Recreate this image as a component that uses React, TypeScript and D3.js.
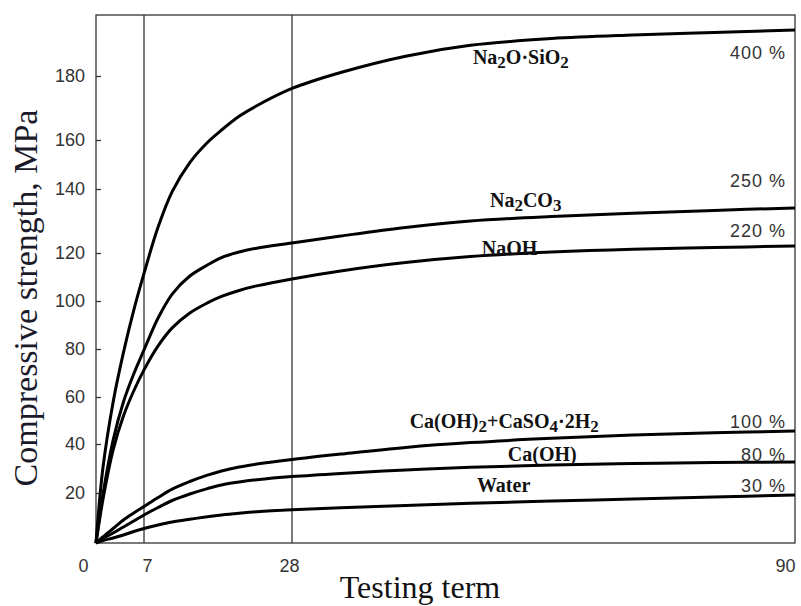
import React from 'react';
import * as d3 from 'd3';

// testing term, days
const days = [0, 1, 2.5, 4, 5.5, 7, 9, 11, 13.5, 16, 18, 20.5, 23, 28, 34, 42, 50, 60, 70, 80, 90];

// compressive strength, MPa
const silicate = [0, 30, 57.9, 78.5, 96.1, 111.5, 128.1, 139.2, 150.8, 159, 163.1, 167.4, 170.7, 176.1, 181.1, 186.2, 189.6, 191.7, 192.8, 193.6, 194.4];
const carbonate = [0, 19.2, 41.7, 57.9, 69.6, 79.6, 92.9, 102.9, 110.4, 115, 118.1, 120.3, 121.5, 123.1, 125.3, 128, 130, 131.4, 132.4, 133.3, 134.1];
const hydroxide = [0, 17.2, 37.6, 51.9, 62.5, 71.3, 81.3, 88.8, 95, 99.2, 101.9, 104.4, 106.3, 109.2, 112.5, 116, 118.5, 120.3, 121.2, 121.7, 122.2];
const limeGypsum = [0, 2.4, 5.8, 9.2, 12, 14.6, 18.2, 21.6, 24.7, 27.3, 29, 30.6, 31.8, 33.7, 35.9, 38.6, 40.6, 42.4, 43.8, 44.8, 45.5];
const lime = [0, 1.8, 4, 6.4, 8.8, 11.2, 14.2, 17, 19.6, 21.8, 23.3, 24.5, 25.4, 26.7, 28, 29.4, 30.5, 31.4, 32, 32.4, 32.65];
const water = [0, 1, 2, 3.2, 4.6, 5.8, 7.2, 8.4, 9.5, 10.5, 11.2, 11.9, 12.5, 13.3, 14.1, 15, 15.9, 16.8, 17.6, 18.4, 19.2];

const percents = ['400 %', '250 %', '220 %', '100 %', '80 %', '30 %'];

// label text pieces, "_" prefix = subscript
const names = [
  ['Na', '_2', 'O·SiO', '_2'],
  ['Na', '_2', 'CO', '_3'],
  ['NaOH'],
  ['Ca(OH)', '_2', '+CaSO', '_4', '·2H', '_2'],
  ['Ca(OH)'],
  ['Water'],
];

const xTicks = [0, 7, 28, 90];
const yTicks = [20, 40, 60, 80, 100, 120, 140, 160, 180];

const W = 801;
const H = 606;
const left = 96;
const top = 15;
const right = 795;
const bottom = 543;

// the original axes are not evenly spaced, so piecewise scales
const x = d3.scaleLinear().domain([0, 7, 28, 90]).range([left, 144, 292, right]);
const y = d3
  .scaleLinear()
  .domain([0, 20, 40, 60, 80, 100, 120, 140, 160, 180, 200])
  .range([bottom, 493, 444, 397, 349, 301, 253, 189, 140, 76, 12]);

const series = [silicate, carbonate, hydroxide, limeGypsum, lime, water];

// where each name sits: day of its left edge, offset from the curve
const namePos = [
  { day: 50.3, dy: 19 },
  { day: 52.4, dy: -13 },
  { day: 51.4, dy: -1 },
  { day: 42.5, dy: -19 },
  { day: 54.6, dy: -5 },
  { day: 50.8, dy: -11 },
];
const pctY = [59, 187, 237, 428, 461, 492];

const serif = '"Liberation Serif", "Times New Roman", serif';
const sans = '"Liberation Sans", Arial, sans-serif';

const valueAt = (vals: number[], day: number) => d3.scaleLinear().domain(days).range(vals)(day);

export default function App() {
  const yAxisRef = React.useRef<SVGGElement>(null);
  const xAxisRef = React.useRef<SVGGElement>(null);

  React.useEffect(() => {
    const ya = d3.select(yAxisRef.current!);
    ya.call(d3.axisLeft(y).tickValues(yTicks).tickSizeInner(-5).tickSizeOuter(0).tickPadding(11) as any);
    ya.select('.domain').remove();
    ya.selectAll('line').attr('stroke', '#333').attr('stroke-width', 1.3);
    ya.selectAll('text').attr('fill', '#333').style('font-family', sans).style('font-size', '18px');

    const xa = d3.select(xAxisRef.current!);
    xa.call(d3.axisBottom(x).tickValues(xTicks).tickSize(0).tickPadding(16) as any);
    xa.select('.domain').remove();
    xa.selectAll('text')
      .attr('fill', '#333')
      .style('font-family', sans)
      .style('font-size', '18px')
      .attr('dx', (d: any) => (d === 0 ? -13 : d === 90 ? -10 : d === 28 ? -3 : 3));
  }, []);

  const line = d3
    .line<number>()
    .x((_, i) => x(days[i]))
    .y((v) => y(v))
    .curve(d3.curveCatmullRom.alpha(0.5));

  return (
    <svg width={W} height={H} style={{ position: 'absolute', left: 0, top: 0, background: '#fff' }}>
      <rect x={0} y={0} width={W} height={H} fill="#fff" />
      {/* frame and reference lines */}
      <rect x={left} y={top} width={right - left} height={bottom - top} fill="none" stroke="#333" strokeWidth={1.3} />
      {[7, 28].map((d) => (
        <line key={d} x1={x(d)} x2={x(d)} y1={top} y2={bottom} stroke="#333" strokeWidth={1.3} />
      ))}
      <g ref={yAxisRef} transform={`translate(${left},0)`} />
      <g ref={xAxisRef} transform={`translate(0,${bottom})`} />

      {series.map((vals, i) => (
        <path key={i} d={line(vals) || ''} fill="none" stroke="#000" strokeWidth={3} strokeLinejoin="round" />
      ))}

      {names.map((parts, i) => {
        const p = namePos[i];
        return (
          <text
            key={i}
            x={x(p.day)}
            y={y(valueAt(series[i], p.day)) + p.dy}
            fontFamily={serif}
            fontSize={20}
            fontWeight="bold"
            fill="#111"
          >
            {parts.map((t, j) =>
              t.startsWith('_') ? (
                <tspan key={j} baselineShift="-4" fontSize={17}>
                  {t.slice(1)}
                </tspan>
              ) : (
                <tspan key={j}>{t}</tspan>
              )
            )}
          </text>
        );
      })}

      {percents.map((t, i) => (
        <text
          key={t}
          x={x(90) - 9}
          y={pctY[i]}
          textAnchor="end"
          fontFamily={sans}
          fontSize={18}
          letterSpacing={1}
          fill="#333"
        >
          {t}
        </text>
      ))}

      <text
        transform="translate(37,298) rotate(-90)"
        textAnchor="middle"
        fontFamily={serif}
        fontSize={34}
        fill="#1a1a2a"
      >
        Compressive strength, MPa
      </text>
      <text x={420} y={598} textAnchor="middle" fontFamily={serif} fontSize={32} fill="#111">
        Testing term
      </text>
    </svg>
  );
}
